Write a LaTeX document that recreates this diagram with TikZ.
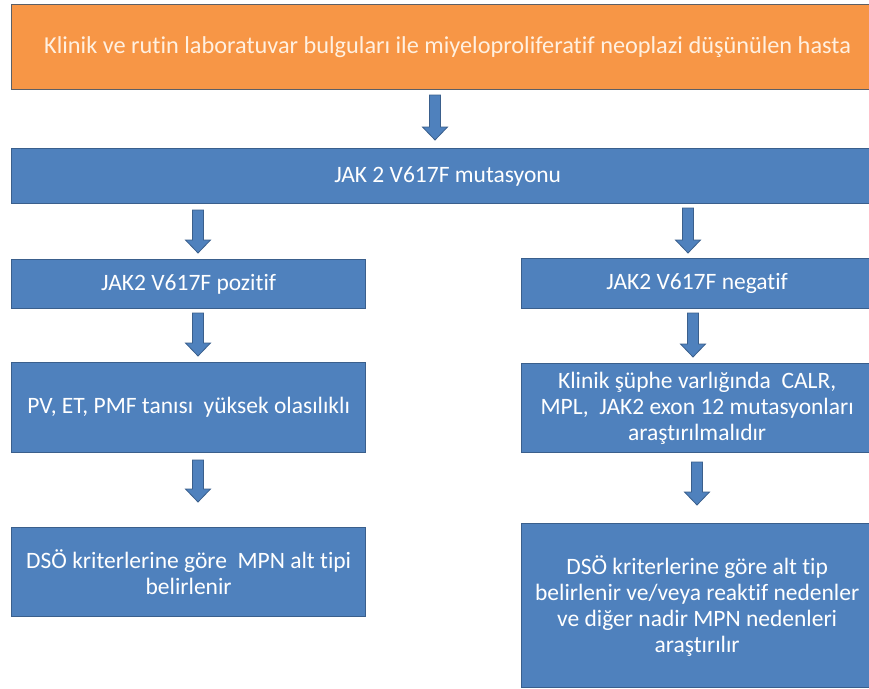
\documentclass[tikz,border=0pt]{standalone}
\usepackage{fontspec}
\setmainfont{Carlito}[Ligatures=NoCommon]
\usetikzlibrary{calc}
\definecolor{boxblue}{HTML}{4F81BD}
\definecolor{boxedge}{HTML}{3A5F8C}
\definecolor{boxorange}{HTML}{F79646}
\definecolor{orangeedge}{HTML}{5C5F66}
\begin{document}
\begin{tikzpicture}[x=1pt,y=-1pt,
  box/.style={draw=boxedge, fill=boxblue, line width=1.3pt, text=white,
    font=\fontsize{23.5}{26}\selectfont, align=center, inner sep=0pt, anchor=north west},
  orangebox/.style={box, fill=boxorange, draw=orangeedge, text=white!88!orange,
    font=\fontsize{24.3}{27}\selectfont},
  blockarr/.style={fill=boxblue, draw=boxedge, line width=0.8pt, line join=miter,
    to path={let \p1=(\tikztostart), \p2=(\tikztotarget) in
      (\x1-5.5pt,\y1) -- (\x1+5.5pt,\y1) -- (\x1+5.5pt,\y2+13pt) -- (\x1+12.5pt,\y2+13pt)
      -- (\x1,\y2) -- (\x1-12.5pt,\y2+13pt) -- (\x1-5.5pt,\y2+13pt) -- cycle}}]
\useasboundingbox (0,0) rectangle (869,688);
\fill[white] (0,0) rectangle (869,688);

% boxes
\node[orangebox, minimum width=872pt, minimum height=85pt] (top) at (11,4)
  {Klinik ve rutin laboratuvar bulguları ile miyeloproliferatif neoplazi düşünülen hasta};
\node[box, minimum width=872pt, minimum height=55pt] (jak) at (11,148)
  {JAK 2 V617F mutasyonu};
\node[box, minimum width=354pt, minimum height=49pt] (poz) at (11,259)
  {JAK2 V617F pozitif};
\node[box, minimum width=351pt, minimum height=50pt] (neg) at (521,258)
  {JAK2 V617F negatif};
\node[box, minimum width=354pt, minimum height=90pt] (pv) at (11,362)
  {PV, ET, PMF tanısı\ \ yüksek olasılıklı};
\node[box, minimum width=351pt, minimum height=89pt] (kl) at (521,363)
  {Klinik şüphe varlığında\ \ CALR,\\MPL,\ \ JAK2 exon 12 mutasyonları\\araştırılmalıdır};
\node[box, minimum width=354pt, minimum height=89pt] (dsoa) at (11,527)
  {DSÖ kriterlerine göre\ \ MPN alt tipi\\belirlenir};
\node[box, minimum width=351pt, minimum height=164pt] (dsob) at (521,523)
  {DSÖ kriterlerine göre alt tip\\belirlenir ve/veya reaktif nedenler\\ve diğer nadir MPN nedenleri\\araştırılır};

% arrow end points
\coordinate (a1s) at (435,95);  \coordinate (a1e) at (435,140);
\coordinate (a2s) at (198,210); \coordinate (a2e) at (198,253);
\coordinate (a3s) at (688,208); \coordinate (a3e) at (688,253);
\coordinate (a4s) at (198,313); \coordinate (a4e) at (198,356);
\coordinate (a5s) at (693,313); \coordinate (a5e) at (693,357);
\coordinate (a6s) at (198,460); \coordinate (a6e) at (198,502);
\coordinate (a7s) at (697,462); \coordinate (a7e) at (697,505);

\draw[blockarr] (a1s) to (a1e);
\draw[blockarr] (a2s) to (a2e);
\draw[blockarr] (a3s) to (a3e);
\draw[blockarr] (a4s) to (a4e);
\draw[blockarr] (a5s) to (a5e);
\draw[blockarr] (a6s) to (a6e);
\draw[blockarr] (a7s) to (a7e);
\end{tikzpicture}
\end{document}
